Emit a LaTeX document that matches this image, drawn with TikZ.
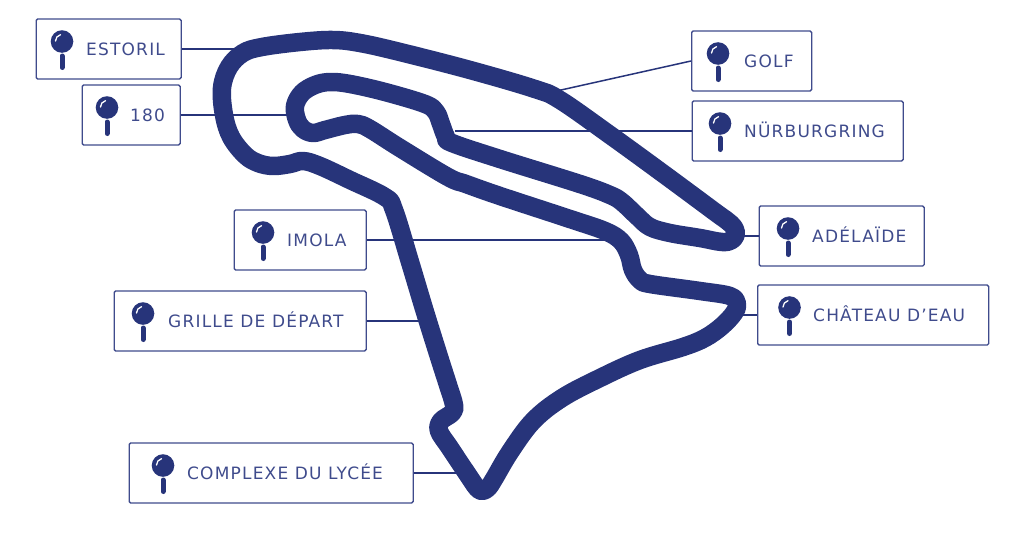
\documentclass[tikz,border=0pt]{standalone}
\usepackage{fontspec}
\setmainfont[LetterSpace=7]{DejaVu Sans}
\usetikzlibrary{positioning,calc}
\definecolor{trackblue}{HTML}{27347A}
\definecolor{boxblue}{HTML}{3F4B8C}
\tikzset{
  labelbox/.style={draw=boxblue,line width=1.3pt,rounded corners=1.5pt,minimum height=60pt,anchor=west,inner sep=0pt},
  labeltext/.style={text=boxblue,font=\fontsize{17}{18}\selectfont,anchor=base west,inner sep=0pt},
  leader/.style={draw=trackblue,line width=1.5pt},
  track/.style={draw=trackblue,line width=18.5pt,line join=round},
  pin/.pic={
    \fill[trackblue] (0,0) circle (11.3);
    \draw[trackblue,line width=5pt,line cap=round] (0,14.5) -- (0,26);
    \draw[white,line width=1.3pt,line cap=round] (-6.5,-0.5) .. controls (-6.5,-3.5) and (-4.5,-6) .. (-1.5,-6.8);
  }
}
\begin{document}
\begin{tikzpicture}[x=1pt,y=-1pt]
  \useasboundingbox (0,0) rectangle (1024,533);
  % free ends of the leaders, under the track
  \coordinate (endestoril) at (235,49);
  \coordinate (endoneeighty) at (298,115);
  \coordinate (endgolf) at (552,92);
  \coordinate (endnurburgring) at (455,131);
  \coordinate (endadelaide) at (738,236);
  \coordinate (endchateau) at (738,315);
  \coordinate (endimola) at (608,240);
  \coordinate (endgrille) at (425,321);
  \coordinate (endcomplexe) at (458,473);
  % boxes, pins and names
  \foreach \name/\bx/\by/\bw/\px/\tx/\txt in {
    estoril/35.5/49/145/62/86/ESTORIL,
    oneeighty/81.5/115/98/107/130/180,
    golf/691/61/120/718/744/GOLF,
    nurburgring/691.5/131/211/720/744/NÜRBURGRING,
    adelaide/758.5/236/165/788/812/ADÉLAÏDE,
    chateau/757/315/231/789.5/813/CHÂTEAU D’EAU,
    imola/233.5/240/132/263/287/IMOLA,
    grille/113.5/321/252/143/168/GRILLE DE DÉPART,
    complexe/128.5/473/284/163/187/COMPLEXE DU LYCÉE}{
    \node[labelbox,minimum width=\bw pt] (\name) at (\bx,\by) {};
    \pic at (\px,\by-7.5) {pin};
    \node[labeltext] (\name text) at (\tx,\by+6) {\txt};
  }
  % leaders
  \draw[leader] (estoril.east) -- (endestoril);
  \draw[leader] (oneeighty.east) -- (endoneeighty);
  \draw[leader] (golf.west) -- (endgolf);
  \draw[leader] (nurburgring.west) -- (endnurburgring);
  \draw[leader] (adelaide.west) -- (endadelaide);
  \draw[leader] (chateau.west) -- (endchateau);
  \draw[leader] (imola.east) -- (endimola);
  \draw[leader] (grille.east) -- (endgrille);
  \draw[leader] (complexe.east) -- (endcomplexe);
  % circuit
  \draw[track] plot[smooth cycle,tension=0.6] coordinates {
    (394,210) (410,262) (425,312) (440,360) (448,385) (454,405) (452,413)
    (441,421) (439,431) (450,448) (470,478) (477,488) (482,491) (488,488)
    (494,479) (510,452) (533,421) (562,398) (600,378) (640,360) (683,347)
    (705,338) (722,326) (734,313) (737,304) (730,296) (700,291) (650,284)
    (640,280) (633,270) (629,255) (621,241) (605,231) (570,219) (500,196)
    (466,184) (448,177) (400,148) (370,129) (358,124) (345,125) (325,130)
    (313,133) (303,129) (297,120) (295,106) (302,93) (315,85) (330,82)
    (350,84) (385,92) (425,104) (436,112) (441,124) (446,137) (452,143)
    (500,159) (580,184) (610,195) (622,202) (637,216) (650,227) (670,233)
    (700,238) (722,242) (732,240) (736,233) (731,224) (715,212) (665,175)
    (610,135) (560,100) (535,89) (470,70) (400,52) (360,43) (333,40)
    (300,42) (262,47) (243,53) (229,67) (222,88) (224,115) (231,137)
    (245,155) (258,163) (273,166) (290,164) (303,161) (320,166) (350,180)
    (385,197)};
\end{tikzpicture}
\end{document}
